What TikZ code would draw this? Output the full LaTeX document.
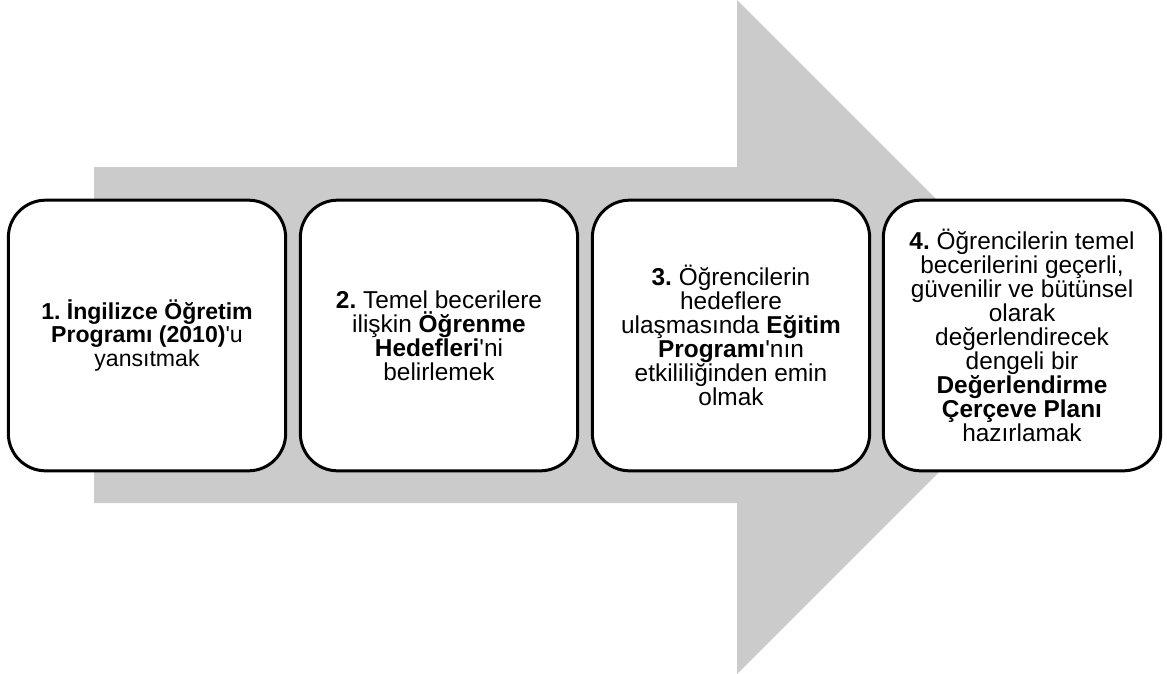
\documentclass[tikz,border=0pt]{standalone}
\usepackage{fontspec}
\setmainfont{Liberation Sans}[Ligatures=TeXOff]
\usepackage{tikz}
\definecolor{arrowgray}{RGB}{203,203,203}
\frenchspacing

\begin{document}
\begin{tikzpicture}[x=0.75pt, y=-0.75pt,
    goal/.style={draw, line width=2.25pt, fill=white, rounded corners=28pt,
      minimum width=208pt, minimum height=203pt, align=center,
      font=\fontsize{18.3}{18}\selectfont}]

    \useasboundingbox (0,0) rectangle (1167,674);

    \fill[arrowgray] (94,167) -- (737,167) -- (737,0) -- (1074,337)
      -- (737,674) -- (737,503) -- (94,503) -- cycle;

    \node[goal, font=\fontsize{17.3}{17.5}\selectfont] at (147, 335.5) (goal1) {\textbf{1. İngilizce Öğretim}\\\textbf{Programı (2010)}'u\\yansıtmak};
    \node[goal] at (439, 335.5) (goal2) {\textbf{2.} Temel becerilere\\ilişkin \textbf{Öğrenme}\\\textbf{Hedefleri}'ni\\belirlemek};
    \node[goal] at (731, 335.5) (goal3) {\textbf{3.} Öğrencilerin\\hedeflere\\ulaşmasında \textbf{Eğitim}\\\textbf{Programı}'nın\\etkililiğinden emin\\olmak};
    \node[goal] at (1022, 335.5) (goal4) {\textbf{4.} Öğrencilerin temel\\becerilerini geçerli,\\güvenilir ve bütünsel\\olarak\\değerlendirecek\\dengeli bir\\\textbf{Değerlendirme}\\\textbf{Çerçeve Planı}\\hazırlamak};

\end{tikzpicture}
\end{document}
